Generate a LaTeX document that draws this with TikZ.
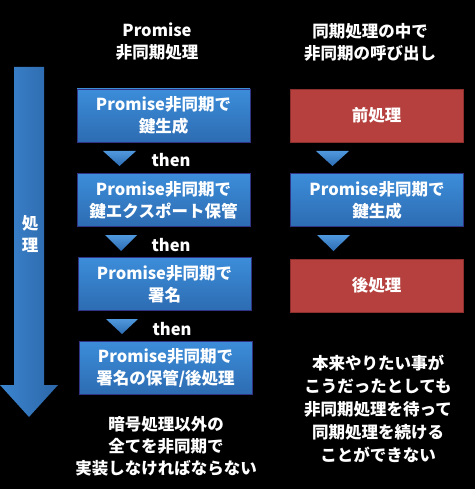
\documentclass[tikz,border=0pt]{standalone}
\usepackage{fontspec}
\setmainfont{Noto Sans CJK JP}
\begin{document}
\begin{tikzpicture}[x=1pt,y=-1pt,
  txt/.style={text=white,font=\fontsize{16.5}{22}\selectfont\bfseries,align=center,inner sep=0pt},
  bluebox/.style={txt,draw=blue!40!black!80,line width=0.6pt,top color=bluetop,bottom color=bluebot,minimum width=173pt,minimum height=53pt},
  redbox/.style={txt,draw=redbd,line width=0.6pt,fill=redfill,minimum width=173pt,minimum height=53pt},
  tri/.style={top color=bluetop!90!white,bottom color=bluebot},
]
\definecolor{bluetop}{HTML}{3C8DDA}
\definecolor{bluebot}{HTML}{2D6CB2}
\definecolor{redfill}{HTML}{B5403D}
\definecolor{redbd}{HTML}{8C2F2D}
\definecolor{arrL}{HTML}{3B85CF}
\definecolor{arrR}{HTML}{2C66A8}
\fill[black] (0,0) rectangle (475,489);
\useasboundingbox (0,0) rectangle (475,489);

% big arrow
\shade[left color=arrL,right color=arrR]
  (14,67) -- (44,67) -- (44,385) -- (58,385) -- (29,417) -- (0,385) -- (14,385) -- cycle;
\node[txt] (proc) at (30,234) {処\\理};

% headers
\node[txt] (hl) at (157,42) {Promise\\非同期処理};
\node[txt] (hr) at (370,42) {同期処理の中で\\非同期の呼び出し};

% left column
\node[bluebox] (b1) at (163.5,115.5) {Promise非同期で\\鍵生成};
\node[bluebox] (b2) at (163.5,200) {Promise非同期で\\鍵エクスポート保管};
\node[bluebox] (b3) at (164.5,284) {Promise非同期で\\署名};
\node[bluebox] (b4) at (165.5,367.5) {Promise非同期で\\署名の保管/後処理};

\path[tri] (103,151) -- (136,151) -- (119.5,166) -- cycle;
\path[tri] (105,235) -- (137,235) -- (121,251) -- cycle;
\path[tri] (106,319) -- (138,319) -- (122,334) -- cycle;
\node[txt] (t1) at (171,160) {then};
\node[txt] (t2) at (171,245) {then};
\node[txt] (t3) at (172,329) {then};

% right column
\node[redbox] (r1) at (376.5,115.5) {前処理};
\node[bluebox] (r2) at (377,200) {Promise非同期で\\鍵生成};
\node[redbox] (r3) at (376.5,285.5) {後処理};
\path[tri] (316,151) -- (349,151) -- (332.5,166) -- cycle;
\path[tri] (317,235) -- (350,235) -- (333.5,251) -- cycle;

% bottom notes
\node[txt] (nl) at (166,446) {暗号処理以外の\\全てを非同期で\\実装しなければならない};
\node[txt,font=\fontsize{16.5}{23}\selectfont\bfseries] (nr) at (378,409) {本来やりたい事が\\こうだったとしても\\非同期処理を待って\\同期処理を続ける\\ことができない};
\end{tikzpicture}
\end{document}
